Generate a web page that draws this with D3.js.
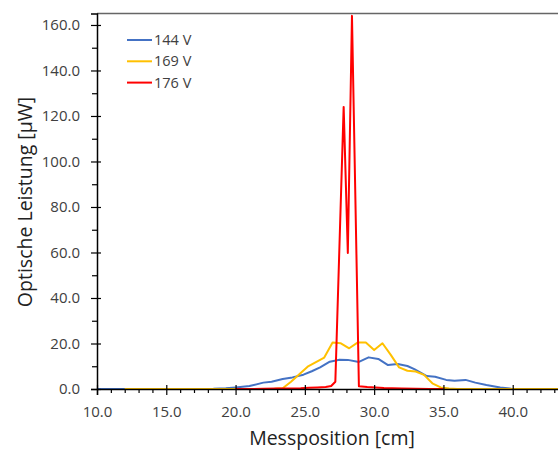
<!DOCTYPE html>
<html><head><meta charset="utf-8">
<script src="https://cdn.jsdelivr.net/npm/d3@7"></script>
<style>
html,body{margin:0;padding:0;background:#fff;}
svg{display:block;}
text{font-family:"Open Sans","Noto Sans",sans-serif;}
</style></head>
<body>
<svg id="chart" width="558" height="450"></svg>
<script>
// ---- data ----
const xTicks = [10, 15, 20, 25, 30, 35, 40];
const yTicks = [0, 20, 40, 60, 80, 100, 120, 140, 160];
const seriesNames = ["144 V", "169 V", "176 V"];
const seriesColors = ["#4472C4", "#FFC000", "#FF0000"];

const blueX = [10, 11.2, 12.4, 13.6, 14.8, 16, 17.2, 18.4, 19.3, 20.0, 21.0, 22.0, 22.6, 23.4, 24.1, 24.9, 25.5, 26.1, 26.8, 27.5, 28.1, 28.9, 29.6, 30.3, 31.0, 31.7, 32.4, 32.9, 33.8, 34.4, 35.2, 35.8, 36.6, 37.3, 38.1, 39.1, 39.9, 40.8, 41.8, 42.8, 43.8, 44.8];
const blueY = [0, 0, 0, 0, 0, 0, 0, 0.1, 0.3, 0.7, 1.3, 2.8, 3.2, 4.4, 5.1, 6.3, 7.8, 9.5, 12.0, 12.9, 12.8, 11.9, 13.9, 13.2, 10.5, 11.0, 10.1, 8.7, 5.7, 5.4, 4.0, 3.6, 4.0, 2.8, 1.8, 0.7, 0.1, 0, 0, 0, 0, 0];

const yellowX = [12, 13.8, 15.6, 17.4, 19.2, 21.0, 22.2, 22.8, 23.4, 24.0, 24.6, 25.2, 25.8, 26.4, 27.0, 27.6, 28.2, 28.8, 29.4, 30.0, 30.6, 31.2, 31.8, 32.4, 33.0, 33.6, 34.2, 34.8, 35.4, 36.0, 37.8, 39.6, 41.4, 43.2, 45.0];
const yellowY = [0, 0, 0, 0, 0, 0, 0, 0.1, 0.3, 3.2, 6.5, 9.8, 11.8, 13.8, 20.4, 20.1, 17.9, 20.4, 20.4, 17.1, 20.1, 15.0, 9.5, 8.0, 7.7, 6.2, 2.5, 0.7, 0.2, 0, 0, 0, 0, 0, 0];

const redX = [20, 21, 22, 23, 24, 24.7, 25.3, 25.9, 26.5, 26.9, 27.2, 27.8, 28.1, 28.4, 28.9, 29.5, 30.1, 30.7, 31.3, 32, 33, 34, 35];
const redY = [0, 0, 0.1, 0.2, 0.2, 0.3, 0.5, 0.7, 0.9, 1.3, 3.2, 124, 59.8, 164, 1.2, 0.9, 0.7, 0.4, 0.3, 0.2, 0.1, 0, 0];

// ---- layout ----
const svg = d3.select("#chart");
const x = d3.scaleLinear().domain([10, 45]).range([97, 582]);
const y = d3.scaleLinear().domain([0, 165]).range([389, 13.6]);
const fmt = d3.format(".1f");
const tickColor = "#404040";

// top border of plot area
svg.append("line").attr("x1", 97).attr("x2", 558).attr("y1", y(165)).attr("y2", y(165))
  .attr("stroke", "#666").attr("stroke-width", 1.5);

// series
const series = [[blueX, blueY], [yellowX, yellowY], [redX, redY]];
const line = d3.line().x(d => x(d[0])).y(d => y(d[1]));
series.forEach((s, i) => {
  const pts = s[0].map((v, j) => [v, s[1][j]]);
  svg.append("path").datum(pts).attr("d", line).attr("fill", "none")
    .attr("stroke", seriesColors[i]).attr("stroke-width", 2).attr("stroke-linejoin", "round");
});

// x axis
const xMinor = d3.range(11, 45).filter(v => v % 5 !== 0);
const gxm = svg.append("g").attr("transform", `translate(0,${y(0)})`)
  .call(d3.axisBottom(x).tickValues(xMinor).tickSize(4).tickFormat(""));
gxm.select(".domain").remove();
const gx = svg.append("g").attr("transform", `translate(0,${y(0)})`)
  .call(d3.axisBottom(x).tickValues(xTicks).tickSize(6).tickPadding(11).tickFormat(fmt));
gx.selectAll(".tick line").attr("y1", -4);
svg.selectAll("g .tick line").attr("stroke", "#000").attr("stroke-width", 1.2);
gx.select(".domain").attr("stroke", "#000").attr("stroke-width", 1.5);
gx.selectAll("text").attr("font-size", 15).attr("fill", tickColor);

// y axis
const yMinor = [10, 30, 50, 70, 90, 110, 130, 150];
const gym = svg.append("g").attr("transform", `translate(97,0)`)
  .call(d3.axisLeft(y).tickValues(yMinor).tickSize(5).tickFormat(""));
gym.select(".domain").remove();
gym.selectAll(".tick line").attr("stroke", "#000").attr("stroke-width", 1.2);
const gy = svg.append("g").attr("transform", `translate(97,0)`)
  .call(d3.axisLeft(y).tickValues(yTicks).tickSize(6).tickPadding(11).tickFormat(fmt));
gy.selectAll(".tick line").attr("x1", 4).attr("stroke", "#000").attr("stroke-width", 1.2);
gy.select(".domain").attr("stroke", "#000").attr("stroke-width", 1.5);
gy.selectAll("text").attr("font-size", 15).attr("fill", tickColor);

// axis titles
svg.append("text").attr("x", 332).attr("y", 445).attr("text-anchor", "middle")
  .attr("font-size", 19.5).attr("fill", "#222").text("Messposition [cm]");
svg.append("text").attr("transform", "translate(32,202) rotate(-90)").attr("text-anchor", "middle")
  .attr("font-size", 19.5).attr("fill", "#222").text("Optische Leistung [µW]");

// legend
seriesNames.forEach((n, i) => {
  const ly = 40 + i * 21.3;
  svg.append("line").attr("x1", 127).attr("x2", 152).attr("y1", ly).attr("y2", ly)
    .attr("stroke", seriesColors[i]).attr("stroke-width", 2);
  svg.append("text").attr("x", 154).attr("y", ly + 5).attr("font-size", 14.5)
    .attr("fill", tickColor).text(n);
});
</script>
</body></html>
